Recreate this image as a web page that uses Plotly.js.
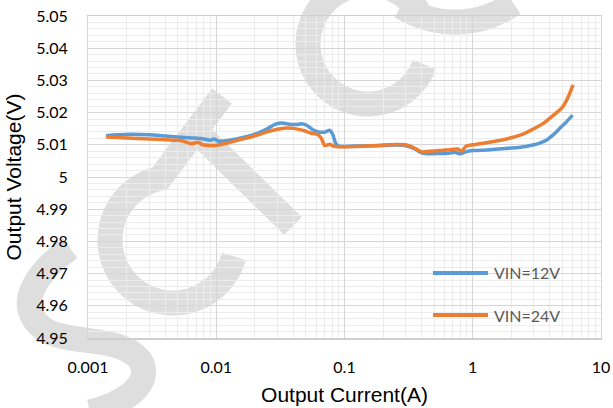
<!DOCTYPE html>
<html>
<head>
<meta charset="utf-8">
<script src="https://cdn.plot.ly/plotly-3.0.1.min.js"></script>
<style>
  html, body { margin: 0; padding: 0; background: #ffffff; }
  #chart { width: 613px; height: 408px; }
</style>
</head>
<body>
<div id="chart"></div>
<script>
// Load regulation: output voltage vs. output current for two input voltages
const seriesNames = ['VIN=12V', 'VIN=24V'];
const seriesColors = ['#5B9BD5', '#ED7D31'];

const current12 = [0.00138, 0.0017, 0.0022, 0.003, 0.004, 0.005, 0.0065, 0.008, 0.009, 0.0096,
  0.0105, 0.012, 0.015, 0.02, 0.025, 0.029, 0.0325, 0.037, 0.042, 0.047,
  0.051, 0.057, 0.064, 0.071, 0.077, 0.081, 0.086, 0.092, 0.12, 0.18,
  0.25, 0.3, 0.35, 0.4, 0.47, 0.55, 0.65, 0.72, 0.8, 0.88,
  1.0, 1.3, 1.6, 2.0, 2.6, 3.0, 3.4, 3.8, 4.3, 4.8, 5.4, 6.0];
const voltage12 = [5.0128, 5.0131, 5.0133, 5.0131, 5.0127, 5.0124, 5.0121, 5.0118, 5.0114, 5.0118,
  5.0111, 5.0113, 5.0120, 5.0133, 5.0150, 5.0164, 5.0168, 5.0164, 5.0163, 5.0165,
  5.0160, 5.0146, 5.0139, 5.0140, 5.0145, 5.0132, 5.0102, 5.0095, 5.0096, 5.0097,
  5.0099, 5.0097, 5.0088, 5.0075, 5.0072, 5.0073, 5.0074, 5.0077, 5.0072, 5.0078,
  5.0082, 5.0084, 5.0087, 5.0090, 5.0095, 5.0100, 5.0107, 5.0116, 5.0133, 5.0152, 5.0172, 5.0192];

const current24 = [0.00138, 0.002, 0.003, 0.004, 0.005, 0.0055, 0.0064, 0.0072, 0.0079, 0.009,
  0.0098, 0.012, 0.015, 0.02, 0.025, 0.03, 0.035, 0.04, 0.045, 0.05,
  0.055, 0.062, 0.066, 0.07, 0.077, 0.082, 0.09, 0.12, 0.18, 0.25,
  0.3, 0.35, 0.4, 0.46, 0.55, 0.66, 0.76, 0.82, 0.89, 1.0,
  1.5, 2.0, 2.5, 3.0, 3.5, 4.2, 5.0, 5.5, 6.06];
const voltage24 = [5.0124, 5.0121, 5.0118, 5.0116, 5.0114, 5.0112, 5.0103, 5.0108, 5.0100, 5.0098,
  5.0098, 5.0105, 5.0115, 5.0128, 5.0140, 5.0148, 5.0152, 5.0151, 5.0147, 5.0142,
  5.0136, 5.0132, 5.0120, 5.0098, 5.0102, 5.0096, 5.0094, 5.0095, 5.0098, 5.0101,
  5.0100, 5.0090, 5.0078, 5.0080, 5.0082, 5.0085, 5.0087, 5.0081, 5.0096, 5.0100,
  5.0111, 5.0122, 5.0134, 5.0150, 5.0165, 5.0190, 5.0216, 5.0245, 5.0286];

const xTickVals = [0.001, 0.01, 0.1, 1, 10];
const xTickText = ['0.001', '0.01', '0.1', '1', '10'];
const yTickVals = [4.95, 4.96, 4.97, 4.98, 4.99, 5.00, 5.01, 5.02, 5.03, 5.04, 5.05];
const yTickText = ['4.95', '4.96', '4.97', '4.98', '4.99', '5', '5.01', '5.02', '5.03', '5.04', '5.05'];

const xTitle = 'Output Current(A)';
const yTitle = 'Output Voltage(V)';

// ---- page geometry ----
const W = 613, H = 408;
const M = { l: 88, r: 12, t: 16, b: 70 };
const PW = W - M.l - M.r, PH = H - M.t - M.b;

// canvas pixel -> paper fraction
function toPaper(x, y) {
  return [((x - M.l) / PW).toFixed(4), ((H - M.b - y) / PH).toFixed(4)];
}
function polyPath(pts) {
  return pts.map((p, i) => (i ? 'L' : 'M') + toPaper(p[0], p[1]).join(',')).join(' ');
}
function arcPts(cx, cy, r, a0, a1, n) {
  const pts = [];
  for (let i = 0; i <= n; i++) {
    const a = (a0 + (a1 - a0) * i / n) * Math.PI / 180;
    pts.push([cx + r * Math.cos(a), cy + r * Math.sin(a)]);
  }
  return pts;
}
function curvePath(segs) {
  return segs.map(s => s[0] + s.slice(1).map(p => toPaper(p[0], p[1]).join(',')).join(' ')).join(' ');
}

// faint logo watermark behind the grid
const markColor = '#dedede';
const markWidth = 25;
const mark = (path) => ({
  type: 'path', xref: 'paper', yref: 'paper', layer: 'below',
  path: path, line: { color: markColor, width: markWidth }, fillcolor: 'rgba(0,0,0,0)'
});
const watermark = [
  mark(polyPath(arcPts(368, 44, 60, 20, 330, 60))),
  mark(polyPath(arcPts(455, -80, 102, 122, 55, 30))),
  mark(polyPath(arcPts(173, 240, 63, 15, 258, 60).concat([[222, 96]]))),
  mark(polyPath([[197, 132], [293, 226]])),
  mark(curvePath([
    ['M', [70, 248]],
    ['C', [40, 270], [10, 305], [45, 330]],
    ['C', [70, 345], [120, 335], [140, 360]],
    ['C', [155, 385], [120, 405], [90, 412]]
  ]))
];

// legend drawn as line samples with labels inside the plot
const legendRows = [273, 315];
const legendShapes = seriesNames.map((n, i) => {
  const a = toPaper(433, legendRows[i]), b = toPaper(488, legendRows[i]);
  return {
    type: 'line', xref: 'paper', yref: 'paper', layer: 'above',
    x0: +a[0], y0: +a[1], x1: +b[0], y1: +b[1],
    line: { color: seriesColors[i], width: 4 }
  };
});
const legendLabels = seriesNames.map((n, i) => {
  const p = toPaper(492, legendRows[i]);
  return {
    xref: 'paper', yref: 'paper', x: +p[0], y: +p[1],
    xanchor: 'left', yanchor: 'middle', showarrow: false,
    text: n, font: { family: 'Lato, sans-serif', size: 16, color: '#595959' }
  };
});

const traces = [
  { x: current12, y: voltage12, name: seriesNames[0] },
  { x: current24, y: voltage24, name: seriesNames[1] }
].map((t, i) => Object.assign(t, {
  type: 'scatter', mode: 'lines',
  line: { color: seriesColors[i], width: 3.5, shape: 'spline', smoothing: 0.6 },
  hoverinfo: 'x+y+name'
}));

const tickFont = { family: 'Lato, sans-serif', size: 16, color: '#000000' };
const titleFont = { family: '"Liberation Sans", Arial, sans-serif', size: 21, color: '#000000' };

const layout = {
  width: W, height: H,
  margin: M,
  paper_bgcolor: '#ffffff',
  plot_bgcolor: 'rgba(0,0,0,0)',
  showlegend: false,
  xaxis: {
    type: 'log', range: [-3, 1],
    tickvals: xTickVals, ticktext: xTickText,
    tickfont: tickFont, ticks: '', ticklabelstandoff: 14,
    showgrid: true, gridcolor: '#d6d6d6', gridwidth: 1,
    minor: { dtick: 'D1', showgrid: true, gridcolor: '#ececec', gridwidth: 1, ticks: '' },
    showline: true, linecolor: '#cfcfcf', linewidth: 1.5, mirror: true,
    zeroline: false, automargin: false,
    title: { text: xTitle, font: titleFont, standoff: 12 }
  },
  yaxis: {
    range: [4.95, 5.05],
    tickvals: yTickVals, ticktext: yTickText,
    tickfont: tickFont, ticks: '', ticklabelstandoff: 16,
    showgrid: true, gridcolor: '#d6d6d6', gridwidth: 1,
    minor: { dtick: 0.002, showgrid: true, gridcolor: '#ececec', gridwidth: 1, ticks: '' },
    showline: true, linecolor: '#d6d6d6', linewidth: 1, mirror: true,
    zeroline: false, automargin: false,
    title: { text: yTitle, font: titleFont, standoff: 8 }
  },
  shapes: watermark.concat(legendShapes),
  annotations: legendLabels
};

Plotly.newPlot('chart', traces, layout, { staticPlot: true, displayModeBar: false });
</script>
</body>
</html>
